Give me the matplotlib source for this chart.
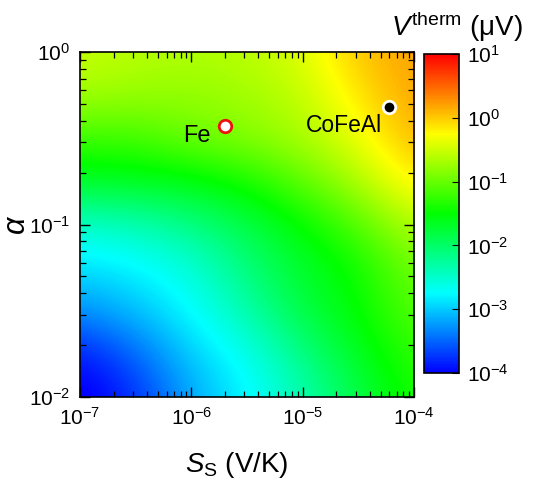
import numpy as np
import matplotlib
matplotlib.use("Agg")
import matplotlib.pyplot as plt
from matplotlib.colors import LogNorm, Normalize, LinearSegmentedColormap
from matplotlib.cm import ScalarMappable

plt.rcParams['font.family'] = ['Liberation Sans', 'DejaVu Sans']
plt.rcParams['mathtext.fontset'] = 'custom'
plt.rcParams['mathtext.rm'] = 'Liberation Sans'
plt.rcParams['mathtext.it'] = 'Liberation Sans:italic'
plt.rcParams['mathtext.bf'] = 'Liberation Sans:bold'
plt.rcParams['axes.unicode_minus'] = False

# grid (log10 of S_S in V/K, log10 of alpha)
log_S = [-7.0, -6.5, -6.0, -5.5, -5.0, -4.5, -4.0]
log_alpha = [-2.0, -1.75, -1.5, -1.25, -1.0, -0.75, -0.5, -0.25, 0.0]

# log10 of V^therm (uV), rows follow log_alpha, columns follow log_S
log_V = [
    [-4.1, -3.8, -3.15, -2.8, -2.35, -1.85, -1.35],
    [-3.9, -3.5, -2.97, -2.67, -2.14, -1.65, -1.25],
    [-3.3, -3.05, -2.75, -2.33, -1.8, -1.5, -1.06],
    [-2.9, -2.8, -2.58, -2.09, -1.7, -1.45, -0.91],
    [-2.5, -2.4, -2.15, -1.85, -1.5, -1.1, -0.6],
    [-1.7, -1.65, -1.6, -1.4, -1.05, -0.65, -0.15],
    [-1.2, -1.2, -0.96, -0.86, -0.67, -0.35, 0.12],
    [-0.71, -0.76, -0.8, -0.71, -0.57, -0.12, 0.2],
    [-0.52, -0.6, -0.64, -0.6, -0.42, 0.05, 0.2],
]

# materials
mat_names = ["Fe", "CoFeAl"]
mat_S = [2.0e-6, 6.0e-5]
mat_alpha = [0.37, 0.48]


def main():
    cmap = LinearSegmentedColormap.from_list(
        "therm", ["#0000ff", "#00ffff", "#00ff00", "#ffff00", "#ff0000"])

    fig = plt.figure(figsize=(5.41, 4.87), dpi=100)
    pos = [0.1479, 0.1848, 0.6174, 0.7084]

    # map drawn on a hidden linear axes in log10 units, under the log axes
    ax_img = fig.add_axes(pos)
    dx = (log_S[1] - log_S[0]) / 2
    dy = (log_alpha[1] - log_alpha[0]) / 2
    ax_img.imshow(np.array(log_V), origin='lower', aspect='auto', cmap=cmap,
                  norm=Normalize(vmin=-4, vmax=1),
                  extent=[log_S[0] - dx, log_S[-1] + dx,
                          log_alpha[0] - dy, log_alpha[-1] + dy],
                  interpolation='bicubic', interpolation_stage='data')
    ax_img.set_xlim(log_S[0], log_S[-1])
    ax_img.set_ylim(log_alpha[0], log_alpha[-1])
    ax_img.axis('off')

    ax = fig.add_axes(pos)
    ax.set_facecolor('none')
    ax.set_xscale('log')
    ax.set_yscale('log')
    ax.set_xlim(10.0 ** log_S[0], 10.0 ** log_S[-1])
    ax.set_ylim(10.0 ** log_alpha[0], 10.0 ** log_alpha[-1])

    # material points
    ax.plot(mat_S[0], mat_alpha[0], 'o', ms=9, mfc='white', mec='#ee1111', mew=2.0)
    ax.plot(mat_S[1], mat_alpha[1], 'o', ms=9, mfc='black', mec='white', mew=2.0)
    ax.annotate(mat_names[0], (mat_S[0], mat_alpha[0]), xytext=(-10, -7),
                textcoords='offset points', ha='right', va='center', fontsize=17)
    ax.annotate(mat_names[1], (mat_S[1], mat_alpha[1]), xytext=(-5, -13),
                textcoords='offset points', ha='right', va='center', fontsize=16.5)

    ax.tick_params(which='both', direction='in', top=True, right=True,
                   labelsize=15, pad=7)
    ax.tick_params(which='major', length=7, width=1.0)
    ax.tick_params(which='minor', length=4, width=0.9)
    for sp in ax.spines.values():
        sp.set_linewidth(1.2)

    ax.set_xlabel(r"$S_\mathrm{S}$ (V/K)", fontsize=20)
    ax.xaxis.set_label_coords(0.47, -0.155)
    ax.set_ylabel(r"$\alpha$", fontsize=22)
    ax.yaxis.set_label_coords(-0.145, 0.5)

    cax = fig.add_axes([0.7837, 0.2341, 0.0647, 0.655])
    sm = ScalarMappable(norm=LogNorm(vmin=1e-4, vmax=1e1), cmap=cmap)
    cb = fig.colorbar(sm, cax=cax)
    cb.ax.minorticks_off()
    cb.ax.tick_params(direction='in', length=5, width=0.8, labelsize=15, pad=6)
    cb.outline.set_linewidth(1.2)
    fig.text(0.845, 0.945, r"$V^{\mathrm{therm}}$ ($\mathrm{\mu}$V)",
             ha='center', va='center', fontsize=20)

    fig.savefig("out.png", dpi=100)


if __name__ == "__main__":
    main()
